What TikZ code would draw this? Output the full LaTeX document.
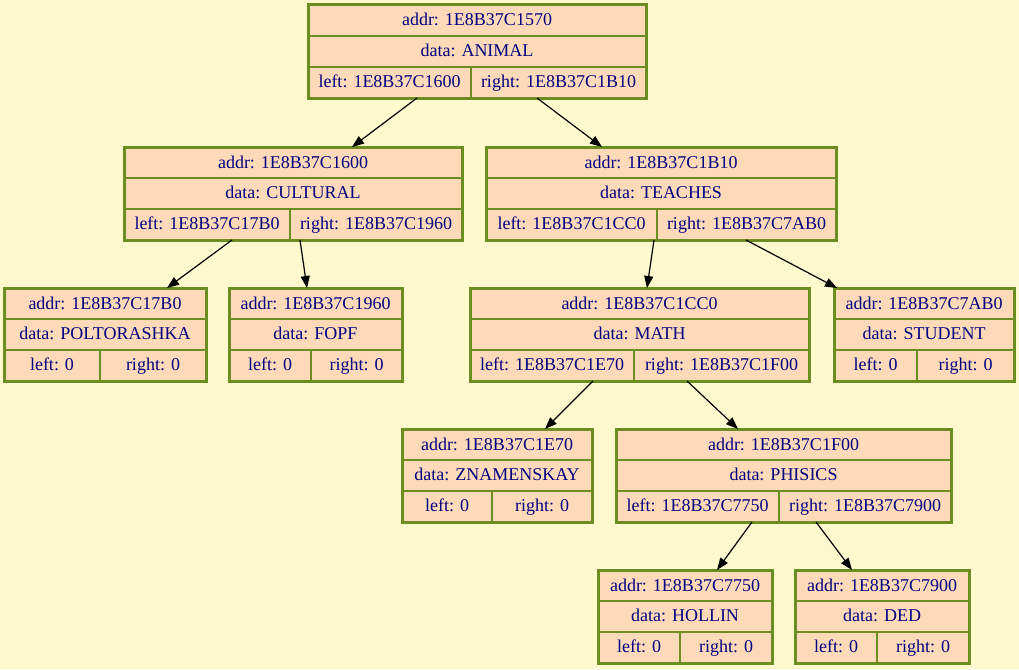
\documentclass[tikz,border=0pt]{standalone}
\usepackage{fontspec}
\setmainfont{Liberation Serif}
\usetikzlibrary{calc,arrows.meta}
\definecolor{bg}{HTML}{FFFACD}
\definecolor{peach}{HTML}{FFDAB9}
\definecolor{olive}{HTML}{6B8E23}
\definecolor{txt}{HTML}{000080}
\tikzset{
 recbox/.style={draw=olive, fill=peach, line width=3pt, rectangle, anchor=north west, minimum height=93pt, inner sep=0pt, outer sep=0pt},
 divline/.style={draw=olive, line width=2pt},
 cell/.style={text=txt, font=\fontsize{18}{20}\selectfont, inner sep=0pt, anchor=base},
 edge/.style={draw=black, line width=1.2pt, -{Triangle[length=12pt,width=9pt]}},
}
\newcommand\rec[9]{%
 \node[recbox, minimum width={(#4-#2)*1pt}] (#1) at (#2,#3) {};
 \draw[divline] ($(#1.north west)+(0,31)$) -- ($(#1.north east)+(0,31)$);
 \draw[divline] ($(#1.north west)+(0,62)$) -- ($(#1.north east)+(0,62)$);
 \draw[divline] ($(#1.north west)+(#5-#2,62)$) -- ($(#1.south west)+(#5-#2,0)$);
 \node[cell] (#1-a) at ({(#2+#4)/2},#3+21) {addr: #6};
 \node[cell] (#1-d) at ({(#2+#4)/2},#3+51.5) {data: #7};
 \node[cell] (#1-l) at ({(#2+#5)/2},#3+82) {left: #8};
 \node[cell] (#1-r) at ({(#5+#4)/2},#3+82) {right: #9};
}
\begin{document}
\begin{tikzpicture}[x=1pt,y=-1pt]
\fill[bg] (0,0) rectangle (1019,669);
\useasboundingbox (0,0) rectangle (1019,669);
\rec{top}{308}{5}{646}{471}{1E8B37C1570}{ANIMAL}{1E8B37C1600}{1E8B37C1B10}
\rec{cul}{124}{147}{462}{290}{1E8B37C1600}{CULTURAL}{1E8B37C17B0}{1E8B37C1960}
\rec{tea}{486}{147}{836}{657}{1E8B37C1B10}{TEACHES}{1E8B37C1CC0}{1E8B37C7AB0}
\rec{pol}{4}{288}{206}{100}{1E8B37C17B0}{POLTORASHKA}{0}{0}
\rec{fopf}{229}{288}{402}{311}{1E8B37C1960}{FOPF}{0}{0}
\rec{math}{470}{288}{809}{634}{1E8B37C1CC0}{MATH}{1E8B37C1E70}{1E8B37C1F00}
\rec{stu}{834}{288}{1014}{917}{1E8B37C7AB0}{STUDENT}{0}{0}
\rec{zna}{402}{429}{592}{492}{1E8B37C1E70}{ZNAMENSKAY}{0}{0}
\rec{phi}{616}{429}{951}{779}{1E8B37C1F00}{PHISICS}{1E8B37C7750}{1E8B37C7900}
\rec{hol}{598}{570}{772}{680}{1E8B37C7750}{HOLLIN}{0}{0}
\rec{ded}{795}{570}{969}{877}{1E8B37C7900}{DED}{0}{0}
\draw[edge] ($(top.south west)+(109,0)$) -- ($(cul.north west)+(228,0)$);
\draw[edge] ($(top.south west)+(229,0)$) -- ($(tea.north west)+(116,0)$);
\draw[edge] ($(cul.south west)+(108,0)$) -- ($(pol.north west)+(163,0)$);
\draw[edge] ($(cul.south west)+(176,0)$) -- ($(fopf.north west)+(78,0)$);
\draw[edge] ($(tea.south west)+(168,0)$) -- ($(math.north west)+(177,0)$);
\draw[edge] ($(tea.south west)+(260,0)$) -- ($(stu.north west)+(3,0)$);
\draw[edge] ($(math.south west)+(123,0)$) -- ($(zna.north west)+(143,0)$);
\draw[edge] ($(math.south west)+(217,0)$) -- ($(phi.north west)+(122,0)$);
\draw[edge] ($(phi.south west)+(136,0)$) -- ($(hol.north west)+(119,0)$);
\draw[edge] ($(phi.south west)+(200,0)$) -- ($(ded.north west)+(57,0)$);
\end{tikzpicture}
\end{document}
